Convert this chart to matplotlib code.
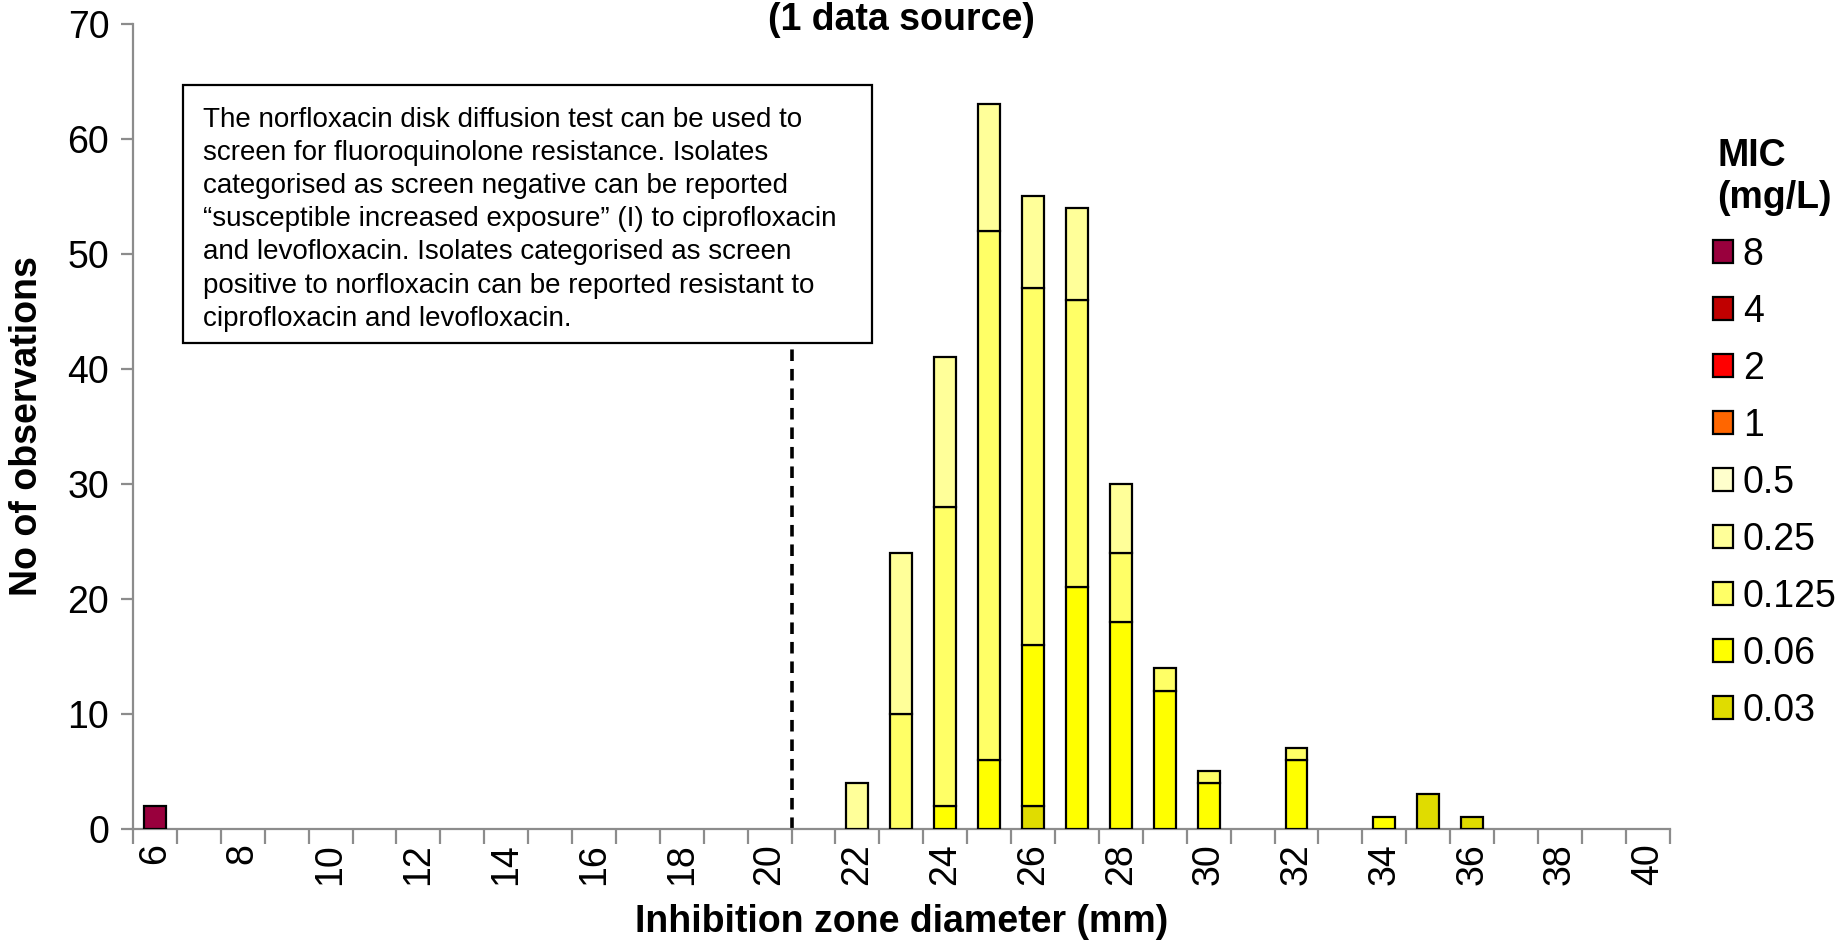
import numpy as np
import matplotlib
matplotlib.use("Agg")
import matplotlib.pyplot as plt
from matplotlib.patches import Rectangle, Patch

plt.rcParams["font.family"] = ["Liberation Sans", "DejaVu Sans"]

# Inhibition zone diameters (mm), one category per mm
zones = list(range(6, 41))

# Number of isolates per zone diameter, split by MIC (mg/L)
mic_8 = {6: 2}
mic_4 = {}
mic_2 = {}
mic_1 = {}
mic_0_5 = {}
mic_0_25 = {22: 4, 23: 14, 24: 13, 25: 11, 26: 8, 27: 8, 28: 6}
mic_0_125 = {23: 10, 24: 26, 25: 46, 26: 31, 27: 25, 28: 6, 29: 2, 30: 1, 32: 1}
mic_0_06 = {24: 2, 25: 6, 26: 14, 27: 21, 28: 18, 29: 12, 30: 4, 32: 6, 34: 1}
mic_0_03 = {26: 2, 35: 3, 36: 1}

mic_labels = ["0.03", "0.06", "0.125", "0.25", "0.5", "1", "2", "4", "8"]
mic_series = [mic_0_03, mic_0_06, mic_0_125, mic_0_25, mic_0_5, mic_1, mic_2, mic_4, mic_8]
mic_colors = ["#E0DC00", "#FFFF00", "#FFFF66", "#FFFF99", "#FFFFCC",
              "#FF6600", "#FF0000", "#C00000", "#99003D"]

tick_labels = [str(z) if z % 2 == 0 else "" for z in zones]
breakpoint_mm = 20.5

note = ("The norfloxacin disk diffusion test can be used to\n"
        "screen for fluoroquinolone resistance. Isolates\n"
        "categorised as screen negative can be reported\n"
        "\u201csusceptible increased exposure\u201d (I) to ciprofloxacin\n"
        "and levofloxacin. Isolates categorised as screen\n"
        "positive to norfloxacin can be reported resistant to\n"
        "ciprofloxacin and levofloxacin.")

fig = plt.figure(figsize=(18.47, 9.43), dpi=100)
ax = fig.add_axes([0.072, 0.1209, 0.832, 0.854])

x = np.arange(len(zones))
bottom = np.zeros(len(zones))
for label, series, color in zip(mic_labels, mic_series, mic_colors):
    counts = np.array([series.get(z, 0) for z in zones], dtype=float)
    nz = counts > 0
    if nz.any():
        ax.bar(x[nz], counts[nz], width=0.5, bottom=bottom[nz], color=color,
               edgecolor="black", linewidth=1.6, zorder=3)
    bottom += counts

# box holding the note (axes fraction)
box_x0, box_y0, box_w, box_h = 0.0325, 0.603, 0.4485, 0.321

# breakpoint line between 20 and 21 mm, running up to the note box
bp = zones.index(int(breakpoint_mm)) + (breakpoint_mm - int(breakpoint_mm))
ax.vlines(bp, 0, box_y0 * 70, color="black", linestyle=(0, (3.2, 2.2)),
          linewidth=2.6, zorder=2)

ax.set_xlim(-0.5, len(zones) - 0.5)
ax.set_ylim(0, 70)
ax.set_yticks(np.arange(0, 71, 10))
ax.set_xticks(x)
ax.set_xticklabels(tick_labels, rotation=90)
ax.set_xticks(np.arange(-0.5, len(zones), 1), minor=True)
ax.tick_params(axis="x", which="major", length=0, labelsize=27, pad=10)
ax.tick_params(axis="x", which="minor", length=11, width=1.6, color="#8c8c8c")
ax.tick_params(axis="y", length=9, width=1.6, color="#8c8c8c", labelsize=27, pad=8)

for side in ["top", "right"]:
    ax.spines[side].set_visible(False)
for side in ["left", "bottom"]:
    ax.spines[side].set_color("#8c8c8c")
    ax.spines[side].set_linewidth(1.6)

ax.set_xlabel("Inhibition zone diameter (mm)", fontsize=27, fontweight="bold", labelpad=14)
ax.set_ylabel("No of observations", fontsize=27, fontweight="bold", labelpad=16)

fig.text(0.488, 0.968, "(1 data source)", fontsize=27, fontweight="bold",
         ha="center", va="baseline")

# explanatory note
ax.add_patch(Rectangle((box_x0, box_y0), box_w, box_h, transform=ax.transAxes,
                       facecolor="white", edgecolor="black", linewidth=1.6, zorder=4))
ax.text(0.0455, 0.897, note, transform=ax.transAxes, fontsize=20, va="top", ha="left",
        linespacing=1.36, zorder=5)

handles = [Patch(facecolor=c, edgecolor="black", linewidth=1.6) for c in mic_colors]
leg = ax.legend(handles[::-1], mic_labels[::-1], loc="upper left",
                bbox_to_anchor=(1.006, 0.9), frameon=False, fontsize=27,
                title="MIC\n(mg/L)", title_fontproperties={"weight": "bold", "size": 27},
                handlelength=0.55, handleheight=0.55, handletextpad=0.25,
                labelspacing=0.56)
leg._legend_box.align = "center"

fig.savefig("out.png", dpi=100)
